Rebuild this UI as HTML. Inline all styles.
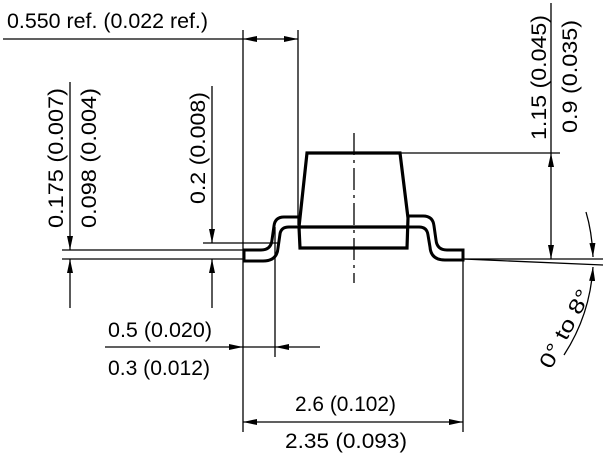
<!DOCTYPE html>
<html><head><style>html,body{margin:0;padding:0;background:#fff}svg{display:block}</style></head>
<body>
<svg width="612" height="454" viewBox="0 0 612 454" xmlns="http://www.w3.org/2000/svg" font-family="Liberation Sans, sans-serif" font-size="21" fill="#000">
<defs>
<marker id="a" viewBox="0 0 14 6" refX="14" refY="3" markerWidth="14" markerHeight="6" markerUnits="userSpaceOnUse" orient="auto-start-reverse"><path d="M0,0 L14,3 L0,6 z" fill="#000"/></marker>
</defs>
<g stroke="#000" fill="none">
<path d="M307 153 L400 153 L408 218 L407 248 L300 248 L299 227 Z" stroke-width="3.2"/>
<line x1="299" y1="227" x2="409" y2="227" stroke-width="3.2"/>
<path d="M300 217 L284 217 Q275 217 274 226 L272 240 Q271 250 261 250 L244 250 L244 261 L263 261 Q277 261 278 248 L280 234 Q281 227 289 227 L300 227" stroke-width="3"/>
<path d="M407 216 L423 216 Q433 216 434 226 L436 240 Q437 250 447 250 L463 250 L463 260 L445 260 Q431 260 430 247 L428 235 Q427 227 419 227 L408 227" stroke-width="3"/>
<line x1="354" y1="133" x2="354" y2="283" stroke-width="1.3" stroke-dasharray="22,5,3,5"/>
<g stroke-width="1.3">
<line x1="3" y1="39" x2="243" y2="39"/>
<line x1="243" y1="30" x2="243" y2="432"/>
<line x1="298" y1="30" x2="298" y2="225"/>
<line x1="243" y1="39" x2="298" y2="39" marker-start="url(#a)" marker-end="url(#a)"/>
<line x1="401" y1="153" x2="560" y2="153"/>
<line x1="551" y1="3" x2="551" y2="153"/>
<line x1="551" y1="153" x2="551" y2="259" marker-start="url(#a)" marker-end="url(#a)"/>
<line x1="463" y1="259" x2="603" y2="259"/>
<line x1="463" y1="259" x2="603" y2="265"/>
<path d="M586 212 Q592 232 593 257" marker-end="url(#a)"/>
<path d="M564 355 Q590 315 593 267" marker-end="url(#a)"/>
<line x1="62" y1="250" x2="243" y2="250"/>
<line x1="62" y1="259" x2="243" y2="259"/>
<line x1="203" y1="243" x2="280" y2="243"/>
<line x1="70" y1="82" x2="70" y2="250" marker-end="url(#a)"/>
<line x1="70" y1="308" x2="70" y2="259" marker-end="url(#a)"/>
<line x1="212" y1="86" x2="212" y2="243" marker-end="url(#a)"/>
<line x1="212" y1="308" x2="212" y2="259" marker-end="url(#a)"/>
<line x1="275" y1="227" x2="275" y2="357"/>
<line x1="463" y1="260" x2="463" y2="432"/>
<line x1="105" y1="347" x2="243" y2="347" marker-end="url(#a)"/>
<line x1="320" y1="347" x2="275" y2="347" marker-end="url(#a)"/>
<line x1="243" y1="347" x2="275" y2="347"/>
<line x1="243" y1="422" x2="463" y2="422" marker-start="url(#a)" marker-end="url(#a)"/>
</g>
</g>
<text x="7" y="28" textLength="201" lengthAdjust="spacingAndGlyphs">0.550 ref. (0.022 ref.)</text>
<text x="108" y="337" textLength="104" lengthAdjust="spacingAndGlyphs">0.5 (0.020)</text>
<text x="108" y="375" textLength="102" lengthAdjust="spacingAndGlyphs">0.3 (0.012)</text>
<text x="295" y="411" textLength="101" lengthAdjust="spacingAndGlyphs">2.6 (0.102)</text>
<text x="285" y="448" textLength="122" lengthAdjust="spacingAndGlyphs">2.35 (0.093)</text>
<text transform="translate(63,228) rotate(-90)" textLength="140" lengthAdjust="spacingAndGlyphs">0.175 (0.007)</text>
<text transform="translate(96,228) rotate(-90)" textLength="140" lengthAdjust="spacingAndGlyphs">0.098 (0.004)</text>
<text transform="translate(205,204) rotate(-90)" textLength="112" lengthAdjust="spacingAndGlyphs">0.2 (0.008)</text>
<text transform="translate(546,140) rotate(-90)" textLength="125" lengthAdjust="spacingAndGlyphs">1.15 (0.045)</text>
<text transform="translate(577,133) rotate(-90)" textLength="113" lengthAdjust="spacingAndGlyphs">0.9 (0.035)</text>
<text transform="translate(551,370) rotate(-62)" textLength="86" lengthAdjust="spacingAndGlyphs">0° to 8°</text>
</svg>
</body></html>
